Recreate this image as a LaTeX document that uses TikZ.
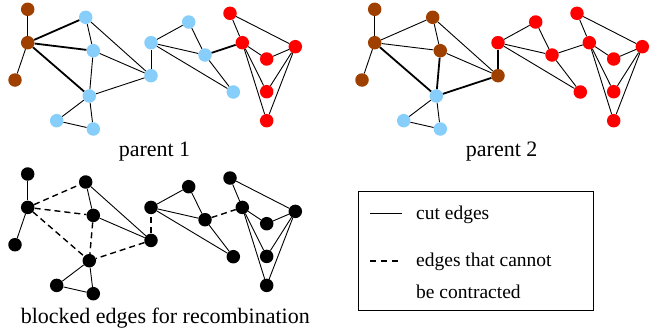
\documentclass[tikz,border=0pt]{standalone}
\usepackage{fontspec}
\setmainfont{Liberation Serif}
\usepackage{xcolor}
\usetikzlibrary{positioning}
\definecolor{nodebrown}{RGB}{160,64,0}
\definecolor{nodeblue}{RGB}{135,206,250}
\definecolor{nodered}{RGB}{255,0,0}

% vertices: name/x/y/group
\newcommand{\vertexlist}{b1/27.7/9.3/ga, b2/27.7/42.7/ga, b3/15/80/ga,
  c1/85.7/17.3/gb, c2/93.3/50.7/gb, c3/151/75.7/gb,
  c4/89.3/96/gc, c5/56.7/120.7/gc, c6/93.3/129/gc,
  c7/151/42.7/gd, c8/188.7/22/gd, c9/205/55/gd, c10/233.3/92/gd,
  r1/230/13.3/ge, r2/242.3/42.7/ge, r3/295.3/46.7/ge,
  r4/266.7/59/ge, r5/266.7/91.7/ge, r6/266.7/120.7/ge}
\newcommand{\commonedges}{b1/b2, b2/b3, c1/c2, c1/c3, c2/c3, c4/c5, c4/c6, c5/c6,
  c7/c8, c7/c9, c7/c10, c8/c9, c9/c10,
  r1/r2, r1/r3, r2/r4, r4/r3, r2/r5, r2/r6, r3/r5, r3/r6}
\newcommand{\cutone}{b2/c1, b2/c2, c9/r2}
\newcommand{\cuttwo}{c2/c4, c3/c4, c3/c7}

\tikzset{
  vertex/.style={circle, inner sep=0pt, minimum size=13.5pt},
  edge/.style={line width=0.9pt},
  cutedge/.style={line width=1.8pt},
  blocked/.style={line width=1.4pt, dash pattern=on 6pt off 4pt},
  caption/.style={anchor=base, font=\fontsize{22}{26}\selectfont},
  legendtext/.style={anchor=base west, inner sep=0pt, font=\fontsize{19.5}{24}\selectfont}
}

\begin{document}
\begin{tikzpicture}[x=1pt, y=-1pt]
    \useasboundingbox (0,0) rectangle (650,335);

    % parent 1
    \begin{scope}
        \colorlet{ga}{nodebrown}\colorlet{gb}{nodeblue}\colorlet{gc}{nodeblue}
        \colorlet{gd}{nodeblue}\colorlet{ge}{nodered}
        \foreach \n/\x/\y/\g in \vertexlist
            \node[vertex, fill=\g] (a\n) at (\x,\y) {};
        \foreach \s/\t in \commonedges \draw[edge] (a\s) -- (a\t);
        \foreach \s/\t in \cuttwo \draw[edge] (a\s) -- (a\t);
        \foreach \s/\t in \cutone \draw[cutedge] (a\s) -- (a\t);
        \draw[cutedge] (ab2) -- (ac4);
        \node[caption] (parentone) at (154.5,156.7) {parent 1};
    \end{scope}

    % parent 2
    \begin{scope}[shift={(347,0)}]
        \colorlet{ga}{nodebrown}\colorlet{gb}{nodebrown}\colorlet{gc}{nodeblue}
        \colorlet{gd}{nodered}\colorlet{ge}{nodered}
        \foreach \n/\x/\y/\g in \vertexlist
            \node[vertex, fill=\g] (b\n) at (\x,\y) {};
        \foreach \s/\t in \commonedges \draw[edge] (b\s) -- (b\t);
        \foreach \s/\t in \cutone \draw[edge] (b\s) -- (b\t);
        \foreach \s/\t in \cuttwo \draw[cutedge] (b\s) -- (b\t);
        \draw[cutedge] (bb2) -- (bc4);
        \node[caption] (parenttwo) at (154.7,156.7) {parent 2};
    \end{scope}

    % blocked edges
    \begin{scope}[shift={(0,164.7)}]
        \foreach \n/\x/\y/\g in \vertexlist
            \node[vertex, fill=black] (c\n) at (\x,\y) {};
        \foreach \s/\t in \commonedges \draw[edge] (c\s) -- (c\t);
        \foreach \s/\t in \cutone \draw[blocked] (c\s) -- (c\t);
        \foreach \s/\t in \cuttwo \draw[blocked] (c\s) -- (c\t);
        \draw[blocked] (cb2) -- (cc4);
    \end{scope}
    \node[caption] (blockedlabel) at (165.3,323) {blocked edges for recombination};

    % legend
    \node[draw, line width=0.8pt, inner sep=0pt, minimum width=235pt, minimum height=118.3pt]
        (legend) at (475.8,250.8) {};
    \coordinate (cuta) at (370,213.3);
    \coordinate (cutb) at (401.7,213.3);
    \coordinate (blocka) at (370,261);
    \coordinate (blockb) at (401.7,261);
    \draw[line width=1.1pt] (cuta) -- (cutb);
    \draw[line width=1.1pt, dash pattern=on 5.5pt off 5.6pt] (blocka) -- (blockb);
    \node[legendtext] (cuttext) at (416,219.3) {cut edges};
    \node[legendtext] (blocktext) at (416,266.7) {edges that cannot};
    \node[legendtext] (blocktextb) at (416,298.3) {be contracted};
\end{tikzpicture}
\end{document}
